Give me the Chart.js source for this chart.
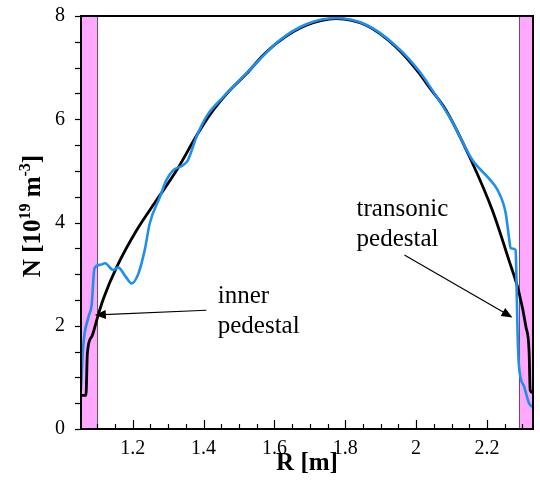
<!DOCTYPE html>
<html>
<head>
<meta charset="utf-8">
<script src="https://cdn.jsdelivr.net/npm/chart.js@4/dist/chart.umd.min.js"></script>
<style>
  html, body { margin: 0; padding: 0; background: #fff; }
</style>
</head>
<body>
<canvas id="profile" width="540" height="491"></canvas>
<script>
// radius [m] and density [1e19 m^-3]
const blackR = [1.054, 1.068, 1.072, 1.085, 1.103, 1.117, 1.155, 1.211, 1.267, 1.324, 1.380, 1.417, 1.474, 1.521, 1.568, 1.615, 1.690, 1.774, 1.859, 1.943, 2.009, 2.037, 2.084, 2.155, 2.215, 2.262, 2.291, 2.310, 2.319, 2.322, 2.330];
const blackN = [0.65, 0.65, 1.47, 1.80, 2.22, 2.52, 3.14, 3.85, 4.43, 5.01, 5.68, 6.08, 6.56, 6.88, 7.24, 7.52, 7.82, 7.95, 7.82, 7.40, 6.89, 6.62, 6.18, 5.21, 4.24, 3.27, 2.63, 1.98, 1.50, 0.75, 0.70];

const blueR = [1.054, 1.060, 1.075, 1.084, 1.092, 1.108, 1.122, 1.145, 1.159, 1.180, 1.197, 1.216, 1.234, 1.248, 1.277, 1.295, 1.314, 1.342, 1.356, 1.380, 1.408, 1.455, 1.521, 1.615, 1.690, 1.774, 1.859, 1.943, 2.009, 2.050, 2.100, 2.159, 2.206, 2.230, 2.253, 2.262, 2.267, 2.281, 2.283, 2.286, 2.290, 2.305, 2.319, 2.328];
const blueN = [0.76, 1.59, 2.17, 2.40, 3.11, 3.18, 3.21, 3.08, 3.13, 2.95, 2.82, 3.01, 3.47, 3.98, 4.50, 4.82, 5.01, 5.11, 5.21, 5.66, 6.05, 6.43, 6.89, 7.53, 7.84, 7.96, 7.83, 7.42, 6.93, 6.52, 5.98, 5.21, 4.85, 4.63, 4.18, 3.72, 3.50, 3.47, 3.01, 1.98, 1.25, 0.82, 0.50, 0.43];

// shaded pedestal regions (R range)
const bands = [[1.054, 1.100], [2.290, 2.330]];

// annotations: label lines, text anchor and arrow (from -> to) in data units
const notes = [
  { lines: ["inner", "pedestal"], at: [1.440, 2.44], from: [1.408, 2.30], to: [1.093, 2.21] },
  { lines: ["transonic", "pedestal"], at: [1.832, 4.12], from: [1.967, 3.37], to: [2.272, 2.16] }
];

const SERIF = "'Liberation Serif', 'Times New Roman', serif";

function toPts(xs, ys) {
  return xs.map((x, i) => ({ x: x, y: ys[i] }));
}

const bandPlugin = {
  id: "bands",
  beforeDatasetsDraw(chart) {
    const { ctx, chartArea, scales } = chart;
    ctx.save();
    bands.forEach(([a, b], i) => {
      const x0 = scales.x.getPixelForValue(a);
      const x1 = scales.x.getPixelForValue(b);
      ctx.fillStyle = "#ffa8ff";
      ctx.fillRect(x0, chartArea.top, x1 - x0, chartArea.bottom - chartArea.top);
      // thin edge on the inner side
      const edge = i === 0 ? x1 : x0;
      ctx.strokeStyle = "#6a506a";
      ctx.lineWidth = 1;
      ctx.beginPath();
      ctx.moveTo(Math.round(edge) + 0.5, chartArea.top);
      ctx.lineTo(Math.round(edge) + 0.5, chartArea.bottom);
      ctx.stroke();
    });
    ctx.restore();
  }
};

function arrow(ctx, x0, y0, x1, y1) {
  const ang = Math.atan2(y1 - y0, x1 - x0);
  const len = 11, half = 4.5;
  ctx.beginPath();
  ctx.moveTo(x0, y0);
  ctx.lineTo(x1 - Math.cos(ang) * len * 0.8, y1 - Math.sin(ang) * len * 0.8);
  ctx.stroke();
  ctx.beginPath();
  ctx.moveTo(x1, y1);
  ctx.lineTo(x1 - Math.cos(ang) * len - Math.sin(ang) * half, y1 - Math.sin(ang) * len + Math.cos(ang) * half);
  ctx.lineTo(x1 - Math.cos(ang) * len + Math.sin(ang) * half, y1 - Math.sin(ang) * len - Math.cos(ang) * half);
  ctx.closePath();
  ctx.fill();
}

const framePlugin = {
  id: "frame",
  afterDraw(chart) {
    const { ctx, chartArea: ca, scales } = chart;
    const sx = scales.x, sy = scales.y;
    ctx.save();
    ctx.strokeStyle = "#000";
    ctx.fillStyle = "#000";

    // x ticks, inside, minor every 0.05
    ctx.lineWidth = 1.2;
    for (let k = 21; k <= 47; k++) {
      const v = k * 0.05;
      if (v < sx.min || v > sx.max) continue;
      const px = Math.round(sx.getPixelForValue(v)) + 0.5;
      const major = k % 4 === 0;
      ctx.beginPath();
      ctx.moveTo(px, ca.bottom);
      ctx.lineTo(px, ca.bottom - (major ? 9 : 5));
      ctx.stroke();
    }
    // y ticks, outside, every 0.5
    for (let k = 0; k <= 16; k++) {
      const py = Math.round(sy.getPixelForValue(k * 0.5)) + 0.5;
      ctx.beginPath();
      ctx.moveTo(ca.left, py);
      ctx.lineTo(ca.left - 6, py);
      ctx.stroke();
    }

    // frame
    ctx.lineWidth = 2;
    ctx.strokeRect(ca.left, ca.top, ca.right - ca.left, ca.bottom - ca.top);

    // annotations
    ctx.lineWidth = 1.2;
    ctx.font = "25px " + SERIF;
    ctx.textAlign = "left";
    ctx.textBaseline = "alphabetic";
    notes.forEach(n => {
      const tx = sx.getPixelForValue(n.at[0]);
      const ty = sy.getPixelForValue(n.at[1]);
      n.lines.forEach((t, i) => ctx.fillText(t, tx, ty + i * 30));
      arrow(ctx, sx.getPixelForValue(n.from[0]), sy.getPixelForValue(n.from[1]),
        sx.getPixelForValue(n.to[0]), sy.getPixelForValue(n.to[1]));
    });

    // axis titles
    ctx.font = "bold 25px " + SERIF;
    ctx.textAlign = "center";
    ctx.fillText("R [m]", (ca.left + ca.right) / 2, 470);

    // y title with superscripts, rotated
    const parts = [
      ["N [10", 25, 0], ["19", 16, -10], [" m", 25, 0], ["-3", 16, -10], ["]", 25, 0]
    ];
    let total = 0;
    parts.forEach(p => { ctx.font = "bold " + p[1] + "px " + SERIF; total += ctx.measureText(p[0]).width; });
    ctx.translate(40, 216);
    ctx.rotate(-Math.PI / 2);
    ctx.textAlign = "left";
    let x = -total / 2;
    parts.forEach(p => {
      ctx.font = "bold " + p[1] + "px " + SERIF;
      ctx.fillText(p[0], x, p[2]);
      x += ctx.measureText(p[0]).width;
    });
    ctx.restore();
  }
};

new Chart(document.getElementById("profile"), {
  type: "scatter",
  data: {
    datasets: [
      {
        label: "model",
        data: toPts(blackR, blackN),
        showLine: true,
        borderColor: "#000",
        borderWidth: 2.8,
        pointRadius: 0,
        cubicInterpolationMode: "monotone",
        order: 1
      },
      {
        label: "measured",
        data: toPts(blueR, blueN),
        showLine: true,
        borderColor: "#1e8ff0",
        borderWidth: 2.6,
        pointRadius: 0,
        cubicInterpolationMode: "monotone",
        order: 0
      }
    ]
  },
  options: {
    responsive: false,
    animation: false,
    devicePixelRatio: 1,
    layout: { padding: { top: 16, right: 7, left: 0, bottom: 0 } },
    plugins: {
      legend: { display: false },
      tooltip: { enabled: false }
    },
    scales: {
      x: {
        type: "linear",
        min: bands[0][0],
        max: bands[1][1],
        grid: { display: false },
        border: { display: false },
        ticks: {
          stepSize: 0.2,
          includeBounds: false,
          padding: 0,
          color: "#000",
          font: { family: SERIF, size: 20 },
          maxRotation: 0,
          callback: v => String(+v.toFixed(2))
        },
        afterFit: s => { s.height = 62; }
      },
      y: {
        min: 0,
        max: 8,
        // invisible tick marks only push the labels away from the axis
        grid: { display: true, drawOnChartArea: false, tickLength: 16, color: "rgba(0,0,0,0)" },
        border: { display: false },
        ticks: {
          stepSize: 2,
          padding: 0,
          color: "#000",
          font: { family: SERIF, size: 20 }
        },
        afterFit: s => { s.width = 81; }
      }
    }
  },
  plugins: [bandPlugin, framePlugin]
});
</script>
</body>
</html>
